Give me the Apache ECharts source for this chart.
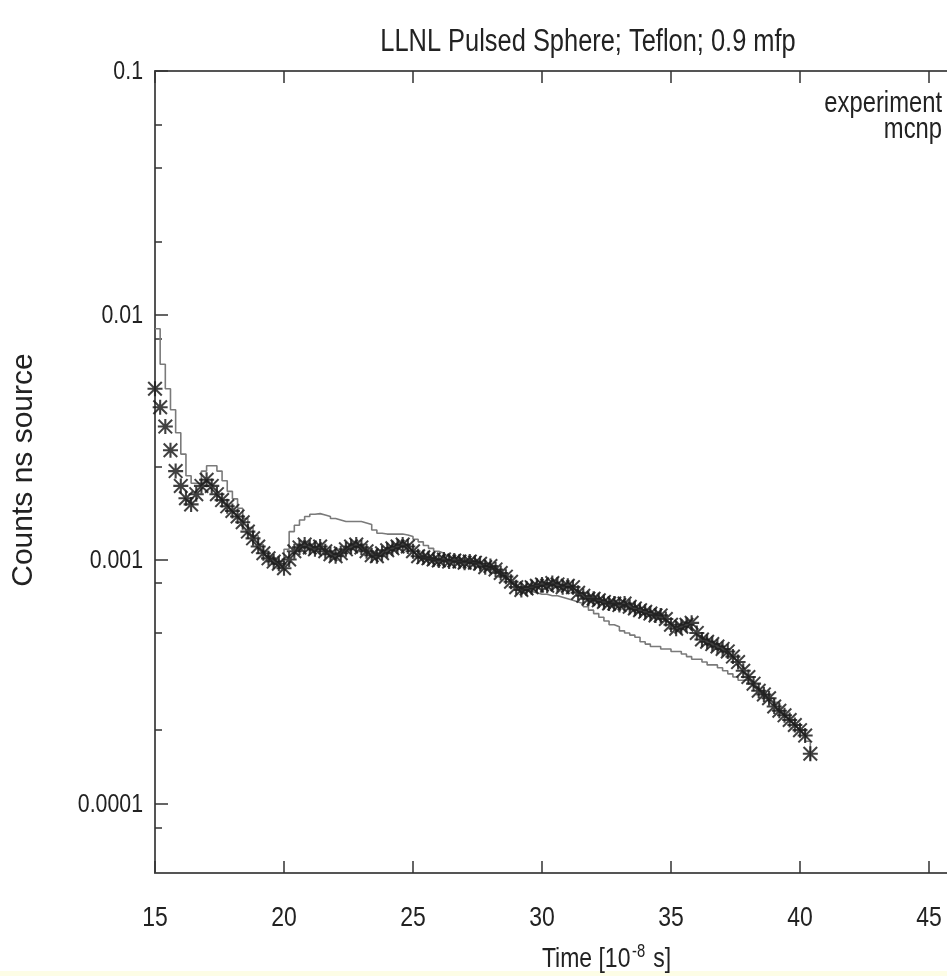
<!DOCTYPE html>
<html>
<head>
<meta charset="utf-8">
<script src="https://cdn.jsdelivr.net/npm/echarts@6/dist/echarts.min.js"></script>
<style>html,body{margin:0;padding:0;background:#fff;}#c{width:947px;height:976px;}</style>
</head>
<body>
<div id="c"></div>
<script>
// ---- data ----
const titleText = 'LLNL Pulsed Sphere; Teflon; 0.9 mfp';
const yAxisTitle = 'Counts ns source';
const xTicks = [15, 20, 25, 30, 35, 40, 45, 50];
const xTickLabels = ['15', '20', '25', '30', '35', '40', '45', '50'];
const yMajorTicks = [0.0001, 0.001, 0.01, 0.1];
const yMajorLabels = ['0.0001', '0.001', '0.01', '0.1'];
const yMinorTicks = [0.06, 0.04, 0.02, 0.008, 0.0024, 0.0008, 0.0005, 0.0002, 0.00008];

const expTime = [
15.0,15.2,15.4,15.6,15.8,16.0,16.2,16.4,16.6,16.8,17.0,17.2,17.4,17.6,17.8,18.0,18.2,18.4,18.6,18.8,
19.0,19.2,19.4,19.6,19.8,20.0,20.2,20.4,20.6,20.8,21.0,21.2,21.4,21.6,21.8,22.0,22.2,22.4,22.6,22.8,
23.0,23.2,23.4,23.6,23.8,24.0,24.2,24.4,24.6,24.8,25.0,25.2,25.4,25.6,25.8,26.0,26.2,26.4,26.6,26.8,
27.0,27.2,27.4,27.6,27.8,28.0,28.2,28.4,28.6,28.8,29.0,29.2,29.4,29.6,29.8,30.0,30.2,30.4,30.6,30.8,
31.0,31.2,31.4,31.6,31.8,32.0,32.2,32.4,32.6,32.8,33.0,33.2,33.4,33.6,33.8,34.0,34.2,34.4,34.6,34.8,
35.0,35.2,35.4,35.6,35.8,36.0,36.2,36.4,36.6,36.8,37.0,37.2,37.4,37.6,37.8,38.0,38.2,38.4,38.6,38.8,
39.0,39.2,39.4,39.6,39.8,40.0,40.2,40.4];
const expValues = [
0.0050,0.0042,0.0035,0.0028,0.0023,0.0020,0.00178,0.00168,0.00185,0.00200,0.00212,0.00200,0.00185,0.00175,0.00165,0.00158,0.00150,0.00142,0.00130,0.00122,
0.00113,0.00106,0.00101,0.00098,0.00096,0.00092,0.00100,0.00108,0.00112,0.00115,0.00112,0.00110,0.00113,0.00108,0.00105,0.00103,0.00106,0.00110,0.00113,0.00115,
0.00112,0.00108,0.00104,0.00103,0.00106,0.00109,0.00111,0.00113,0.00115,0.00113,0.00108,0.00103,0.00102,0.00101,0.00100,0.00099,0.00100,0.00098,0.00099,0.00098,
0.00097,0.00098,0.00097,0.00096,0.00093,0.00094,0.00091,0.00088,0.00085,0.00081,0.00077,0.00075,0.00076,0.00077,0.00078,0.00079,0.00078,0.00080,0.00079,0.00077,
0.00078,0.00077,0.00073,0.00071,0.00069,0.00069,0.00068,0.00067,0.00066,0.00066,0.00065,0.00066,0.00064,0.00063,0.00062,0.00061,0.00060,0.00059,0.00059,0.00057,
0.00054,0.00052,0.00053,0.00054,0.00055,0.00050,0.00047,0.00046,0.00045,0.00044,0.00043,0.00042,0.00040,0.00038,0.00035,0.00033,0.00031,0.00029,0.00028,0.00027,
0.00025,0.00024,0.00023,0.00022,0.00021,0.00020,0.00019,0.00016];

const mcnpTime = expTime;
const mcnpValues = [
0.0088,0.0063,0.0050,0.0041,0.0033,0.0027,0.0022,0.00205,0.00205,0.0023,0.00242,0.00242,0.0023,0.0021,0.0019,0.00177,0.00162,0.00147,0.00135,0.00125,
0.00115,0.00108,0.00103,0.00100,0.00098,0.00110,0.00130,0.00138,0.00145,0.00150,0.00153,0.00154,0.00152,0.00150,0.00147,0.00145,0.00143,0.00143,0.00143,0.00143,
0.00141,0.00139,0.00132,0.00128,0.00127,0.00127,0.00127,0.00127,0.00126,0.00124,0.00121,0.00118,0.00114,0.00111,0.00108,0.00106,0.00104,0.00102,0.00101,0.00100,
0.00099,0.00098,0.00097,0.00096,0.00094,0.00092,0.00089,0.00086,0.00083,0.00080,0.00077,0.00075,0.00074,0.00073,0.00072,0.00072,0.00071,0.00071,0.00070,0.00069,
0.00068,0.00067,0.00066,0.00064,0.00062,0.00060,0.00058,0.00056,0.00054,0.00053,0.00051,0.00050,0.00049,0.00048,0.00046,0.00045,0.00044,0.00044,0.00043,0.00043,
0.00042,0.00042,0.00041,0.00040,0.00039,0.00039,0.00038,0.00037,0.00037,0.00036,0.00035,0.00034,0.00033,0.00032,0.00032,0.00031,0.00030,0.00029,0.00028,0.00027,
0.00026,0.00024,0.00023,0.00022,0.00021,0.00020,0.00018,0.00015];

const seriesNames = ['experiment', 'mcnp'];

// ---- chart ----
const FONT = '"Liberation Sans", Arial, sans-serif';
const NARROW = 0.82;           // the original's lettering is tall and narrow
const AXIS_COLOR = '#555';
const TEXT_COLOR = '#222';
const asterisk = 'path://M4.3,0H5.7V10H4.3Z M0,4.3H10V5.7H0Z M0.95,0L10,9.05L9.05,10L0,0.95Z M9.05,0L10,0.95L0.95,10L0,9.05Z';

const chart = echarts.init(document.getElementById('c'), null, {renderer: 'canvas'});
const option = {
  backgroundColor: '#ffffff',
  animation: false,
  textStyle: {fontFamily: FONT},
  grid: {left: 155, top: 71, width: 903, height: 802, containLabel: false, outerBoundsMode: 'none'},
  xAxis: [
    {
      type: 'value', min: xTicks[0], max: xTicks[xTicks.length - 1], interval: 5, position: 'bottom',
      axisLine: {show: true, onZero: false, lineStyle: {color: AXIS_COLOR, width: 2}},
      axisTick: {show: true, inside: true, length: 12, lineStyle: {color: '#333', width: 1.5}},
      axisLabel: {show: false},
      splitLine: {show: false}
    },
    {
      type: 'value', min: xTicks[0], max: xTicks[xTicks.length - 1], interval: 5, position: 'top',
      axisLine: {show: true, onZero: false, lineStyle: {color: AXIS_COLOR, width: 2}},
      axisTick: {show: true, inside: true, length: 12, lineStyle: {color: '#333', width: 1.5}},
      axisLabel: {show: false}, splitLine: {show: false}
    }
  ],
  yAxis: [
    {
      type: 'log', logBase: 10, min: 5.2e-5, max: 0.1, position: 'left',
      axisLine: {show: true, onZero: false, lineStyle: {color: AXIS_COLOR, width: 2}},
      axisTick: {show: true, inside: true, length: 13, customValues: yMajorTicks, lineStyle: {color: '#333', width: 1.5}},
      axisLabel: {show: false},
      splitLine: {show: false}
    },
    {
      type: 'log', logBase: 10, min: 5.2e-5, max: 0.1, position: 'left',
      axisLine: {show: false},
      axisTick: {show: true, inside: true, length: 7, customValues: yMinorTicks, lineStyle: {color: '#333', width: 1.5}},
      axisLabel: {show: false}, splitLine: {show: false}
    }
  ],
  series: [
    {
      name: seriesNames[1], type: 'line', step: 'end', showSymbol: false, symbol: 'none',
      xAxisIndex: 0, yAxisIndex: 0, z: 2,
      lineStyle: {color: '#7a7a7a', width: 1.6},
      itemStyle: {color: '#7a7a7a'},
      data: mcnpTime.map(function (t, i) { return [t, mcnpValues[i]]; })
    },
    {
      name: seriesNames[0], type: 'scatter', symbol: asterisk, symbolSize: 15,
      xAxisIndex: 0, yAxisIndex: 0, z: 3,
      itemStyle: {color: '#1e1e1e', opacity: 0.85},
      data: expTime.map(function (t, i) { return [t, expValues[i]]; })
    }
  ]
};
chart.setOption(option);

// ---- text: positioned through the chart's own axis scales ----
function txt(x, y, text, size, align) {
  return {
    type: 'text', x: x, y: y, scaleX: NARROW, silent: true, z: 10,
    style: {text: text, align: align, verticalAlign: 'middle', font: size + 'px ' + FONT, fill: TEXT_COLOR}
  };
}
const els = [];
const gridRect = chart.getModel().getComponent('grid', 0).coordinateSystem.getRect();
const axisBottomY = gridRect.y + gridRect.height;
xTicks.forEach(function (v, i) {
  const px = chart.convertToPixel({xAxisIndex: 0}, v);
  els.push(txt(px, axisBottomY + 45, xTickLabels[i], 28, 'center'));
});
yMajorTicks.forEach(function (v, i) {
  const py = chart.convertToPixel({yAxisIndex: 0}, v);
  els.push(txt(gridRect.x - 12, py + 1, yMajorLabels[i], 26, 'right'));
});
// title
els.push(txt(588, 42, titleText, 31, 'center'));
// legend labels (sample marks fall outside the visible area in the original)
els.push(txt(942, 104, seriesNames[0], 29, 'right'));
els.push(txt(942, 130, seriesNames[1], 29, 'right'));
// x axis name with superscript
els.push({
  type: 'text', x: gridRect.x + gridRect.width / 2, y: axisBottomY + 85, scaleX: NARROW, silent: true, z: 10,
  style: {
    text: '{a|Time [10}{s|-8}{a| s]}', align: 'center', verticalAlign: 'middle', fill: TEXT_COLOR,
    rich: {
      a: {fontFamily: FONT, fontSize: 28, lineHeight: 30, padding: [10, 0, 0, 0], verticalAlign: 'bottom', fill: TEXT_COLOR},
      s: {fontFamily: FONT, fontSize: 18, lineHeight: 18, padding: [0, 2, 0, 2], verticalAlign: 'top', fill: TEXT_COLOR}
    }
  }
});
// y axis name
els.push({
  type: 'text', x: 24, y: 470, rotation: Math.PI / 2, silent: true, z: 10,
  style: {text: yAxisTitle, align: 'center', verticalAlign: 'middle', font: '30px ' + FONT, fill: TEXT_COLOR}
});
// faint yellow strip along the bottom edge of the original image
els.push({type: 'rect', shape: {x: 0, y: 971, width: 947, height: 5}, style: {fill: '#fdfde6'}, silent: true, z: 0});

chart.setOption({graphic: {elements: els}});
</script>
</body>
</html>
